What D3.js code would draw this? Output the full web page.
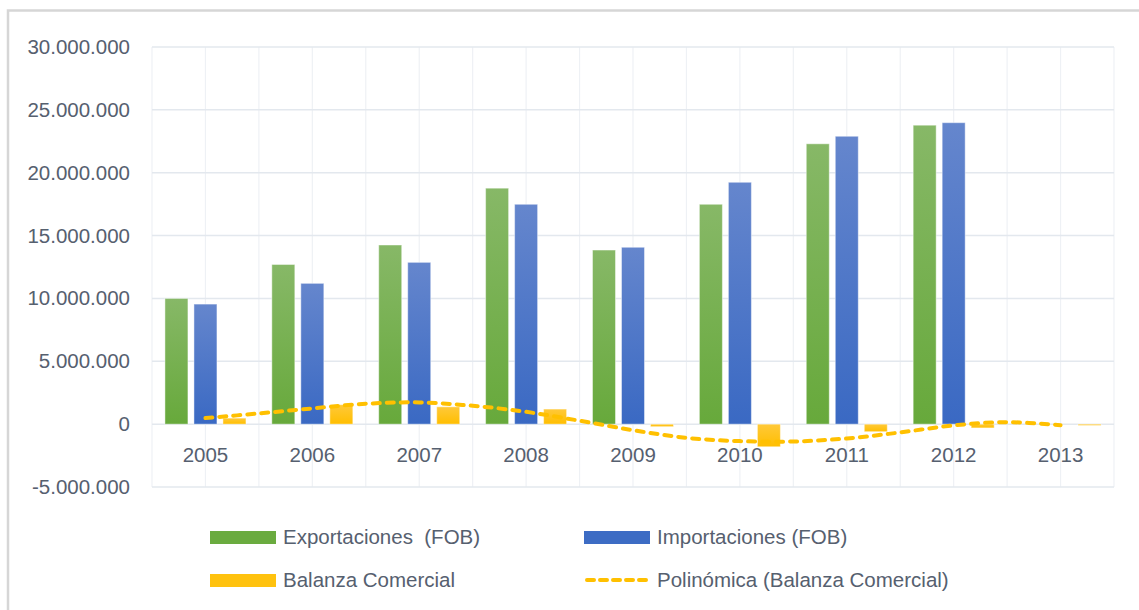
<!DOCTYPE html>
<html>
<head>
<meta charset="utf-8">
<script src="https://cdn.jsdelivr.net/npm/d3@7"></script>
<style>
  html, body { margin: 0; padding: 0; background: #fff; }
  svg { display: block; font-family: "Liberation Sans", Arial, sans-serif; }
</style>
</head>
<body>
<div id="chart"></div>
<script>
// data
var years = ["2005", "2006", "2007", "2008", "2009", "2010", "2011", "2012", "2013"];
var exportaciones = [10000000, 12700000, 14250000, 18770000, 13850000, 17490000, 22300000, 23780000, 0];
var importaciones = [9550000, 11200000, 12870000, 17490000, 14070000, 19240000, 22900000, 23980000, 0];
var balanza = [480000, 1550000, 1380000, 1200000, -200000, -1800000, -600000, -300000, -100000];
// polynomial trend line, read at every half year
var trendYears = [2005, 2005.5, 2006, 2006.5, 2007, 2007.5, 2008, 2008.5, 2009, 2009.5, 2010, 2010.5, 2011, 2011.5, 2012, 2012.5, 2013];
var trendValues = [480000, 850000, 1250000, 1620000, 1730000, 1460000, 980000, 270000, -480000, -1090000, -1350000, -1380000, -1140000, -660000, -100000, 160000, -80000];
var yTicks = [-5000000, 0, 5000000, 10000000, 15000000, 20000000, 25000000, 30000000];
var seriesNames = ["Exportaciones  (FOB)", "Importaciones (FOB)", "Balanza Comercial"];
var trendName = "Polinómica (Balanza Comercial)";

var W = 1139, H = 610;
var plotLeft = 152, plotRight = 1114, plotTop = 47, plotBottom = 487;
var textColor = "#56606f";

var svg = d3.select("#chart").append("svg")
    .attr("width", W)
    .attr("height", H);

// gradients for the bars
var defs = svg.append("defs");
var grads = [
    { id: "gGreen", top: "#87b867", bot: "#67a93b" },
    { id: "gBlue", top: "#6586cd", bot: "#3a69c3" },
    { id: "gYellow", top: "#ffc93a", bot: "#ffbe00" }
];
grads.forEach(function (g) {
    var lg = defs.append("linearGradient").attr("id", g.id)
        .attr("x1", 0).attr("y1", 0).attr("x2", 0).attr("y2", 1);
    lg.append("stop").attr("offset", "0%").attr("stop-color", g.top);
    lg.append("stop").attr("offset", "100%").attr("stop-color", g.bot);
});
var fills = ["url(#gGreen)", "url(#gBlue)", "url(#gYellow)"];
var swatchFills = ["#6aab3f", "#3d6cc4", "#ffc20e"];

// chart frame
svg.append("rect")
    .attr("x", 8).attr("y", 10.5)
    .attr("width", W + 20).attr("height", H + 20)
    .attr("fill", "none")
    .attr("stroke", "#d6d6d6")
    .attr("stroke-width", 2.5);

var x = d3.scaleBand().domain(years).range([plotLeft, plotRight]).padding(0);
var x1 = d3.scaleBand().domain([0, 1, 2]).range([0, x.bandwidth()])
    .paddingInner(0.207).paddingOuter(0.446);
var y = d3.scaleLinear().domain([-5000000, 30000000]).range([plotBottom, plotTop]);
var xYear = d3.scaleLinear().domain([2005, 2013])
    .range([x("2005") + x.bandwidth() / 2, x("2013") + x.bandwidth() / 2]);

// vertical grid: category edges and centers
var vLines = [];
years.forEach(function (yr) {
    vLines.push(x(yr));
    vLines.push(x(yr) + x.bandwidth() / 2);
});
vLines.push(plotRight);
svg.append("g").selectAll("line").data(vLines).enter().append("line")
    .attr("x1", function (d) { return d; }).attr("x2", function (d) { return d; })
    .attr("y1", plotTop).attr("y2", plotBottom)
    .attr("stroke", "#eef1f5").attr("stroke-width", 1.2);

// horizontal grid
svg.append("g").selectAll("line").data(yTicks).enter().append("line")
    .attr("x1", plotLeft).attr("x2", plotRight)
    .attr("y1", function (d) { return y(d); }).attr("y2", function (d) { return y(d); })
    .attr("stroke", "#e3e8ee").attr("stroke-width", 1.5);

// y axis labels
var fmt = function (d) {
    var s = d3.format(",")(Math.abs(d)).replace(/,/g, ".");
    return (d < 0 ? "-" : "") + s;
};
var yAxis = svg.append("g")
    .attr("transform", "translate(130,0)")
    .call(d3.axisLeft(y).tickValues(yTicks).tickSize(0).tickPadding(0).tickFormat(fmt));
yAxis.select(".domain").remove();
yAxis.selectAll("text")
    .attr("fill", textColor)
    .attr("font-size", "20.5px")
    .attr("font-family", "'Liberation Sans', Arial, sans-serif");

// bars
var allSeries = [exportaciones, importaciones, balanza];
allSeries.forEach(function (vals, si) {
    svg.append("g").selectAll("rect").data(vals).enter().append("rect")
        .attr("x", function (d, i) { return x(years[i]) + x1(si); })
        .attr("y", function (d) { return y(Math.max(0, d)); })
        .attr("width", x1.bandwidth())
        .attr("height", function (d) { return Math.abs(y(d) - y(0)); })
        .attr("fill", fills[si])
        .attr("stroke", "rgba(255,255,255,0.45)")
        .attr("stroke-width", 1);
});

// trend line
var line = d3.line()
    .x(function (d, i) { return xYear(trendYears[i]); })
    .y(function (d) { return y(d); })
    .curve(d3.curveCatmullRom.alpha(0.5));
svg.append("path")
    .datum(trendValues)
    .attr("d", line)
    .attr("fill", "none")
    .attr("stroke", "#ffc000")
    .attr("stroke-width", 4)
    .attr("stroke-linecap", "round")
    .attr("stroke-dasharray", "7,7");

// x axis labels
var xAxis = svg.append("g")
    .attr("transform", "translate(0," + (y(0) + 23) + ")")
    .call(d3.axisBottom(x).tickSize(0).tickPadding(0));
xAxis.select(".domain").remove();
xAxis.selectAll("text")
    .attr("fill", textColor)
    .attr("font-size", "20.5px")
    .attr("font-family", "'Liberation Sans', Arial, sans-serif");

// legend
var legend = svg.append("g");
var legendItems = [
    { name: seriesNames[0], fill: swatchFills[0], lx: 210, ly: 537 },
    { name: seriesNames[1], fill: swatchFills[1], lx: 584, ly: 537 },
    { name: seriesNames[2], fill: swatchFills[2], lx: 210, ly: 580 },
    { name: trendName, dash: true, lx: 584, ly: 580 }
];
legendItems.forEach(function (it) {
    if (it.dash) {
        legend.append("line")
            .attr("x1", it.lx + 3).attr("x2", it.lx + 64)
            .attr("y1", it.ly).attr("y2", it.ly)
            .attr("stroke", "#ffc000").attr("stroke-width", 4)
            .attr("stroke-linecap", "round").attr("stroke-dasharray", "7,6");
    } else {
        legend.append("rect")
            .attr("x", it.lx).attr("y", it.ly - 6)
            .attr("width", 66).attr("height", 13)
            .attr("fill", it.fill);
    }
    legend.append("text")
        .attr("x", it.lx + 73).attr("y", it.ly)
        .attr("dy", "0.35em")
        .attr("fill", textColor)
        .attr("font-size", "20.5px")
        .style("white-space", "pre")
        .attr("xml:space", "preserve")
        .text(it.name);
});
</script>
</body>
</html>
